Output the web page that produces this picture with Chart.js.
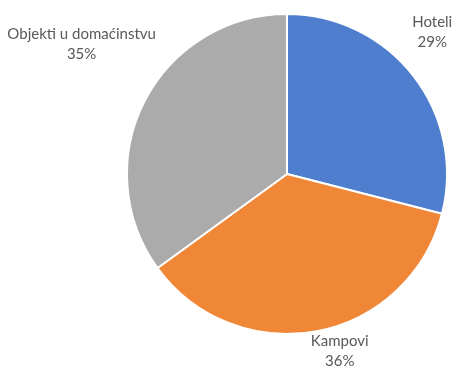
<!DOCTYPE html>
<html>
<head>
<meta charset="utf-8">
<script src="https://cdn.jsdelivr.net/npm/chart.js@4/dist/chart.umd.min.js"></script>
<style>
  body { margin: 0; background: #fff; }
</style>
</head>
<body>
<canvas id="pie" width="460" height="367"></canvas>
<script>
const categories = ['Hoteli', 'Kampovi', 'Objekti u domaćinstvu'];
const shares = [29, 36, 35];
const colors = ['#4e7ecd', '#ef8737', '#ababab'];

// label centre = mid-angle point on the rim, pushed out and nudged per slice
const labelNudge = [[3, -32], [19, 0], [-45, -48]];

const outsideLabels = {
  id: 'outsideLabels',
  afterDatasetsDraw(chart) {
    const ctx = chart.ctx;
    const arcs = chart.getDatasetMeta(0).data;
    ctx.save();
    ctx.font = '15px Lato, "Noto Sans", sans-serif';
    ctx.fillStyle = '#595959';
    ctx.textAlign = 'center';
    ctx.textBaseline = 'middle';
    arcs.forEach((arc, i) => {
      const mid = (arc.startAngle + arc.endAngle) / 2;
      const r = arc.outerRadius + 20;
      const x = arc.x + Math.cos(mid) * r + labelNudge[i][0];
      const y = arc.y + Math.sin(mid) * r + labelNudge[i][1];
      ctx.fillText(categories[i], x, y - 10);
      ctx.fillText(shares[i] + '%', x, y + 10);
    });
    ctx.restore();
  }
};

new Chart(document.getElementById('pie'), {
  type: 'pie',
  data: {
    labels: categories,
    datasets: [{
      data: shares,
      backgroundColor: colors,
      borderColor: '#ffffff',
      borderWidth: 2,
      hoverOffset: 0
    }]
  },
  options: {
    responsive: false,
    animation: false,
    layout: { padding: { top: 13, bottom: 32, left: 126, right: 12 } },
    plugins: {
      legend: { display: false },
      tooltip: { enabled: false }
    }
  },
  plugins: [outsideLabels]
});
</script>
</body>
</html>
